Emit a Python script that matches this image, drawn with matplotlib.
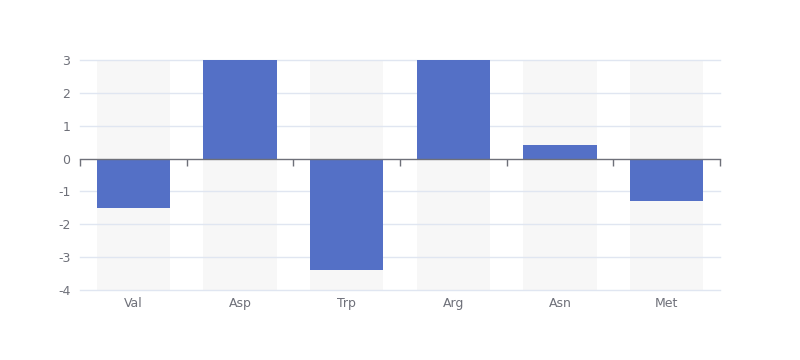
import matplotlib
matplotlib.use("Agg")
import matplotlib.pyplot as plt
import numpy as np

categories = ["Val", "Asp", "Trp", "Arg", "Asn", "Met"]
values = [-1.5, 3, -3.4, 3, 0.4, -1.3]
y_min, y_max = -4, 3
y_ticks = [-4, -3, -2, -1, 0, 1, 2, 3]

bar_color = "#5470c6"
axis_color = "#6E7079"
grid_color = "#E0E6F1"

plt.rcParams['font.family'] = ['DejaVu Sans']

fig = plt.figure(figsize=(8, 3.6), dpi=100)
ax = fig.add_axes([0.1, 1 - 290 / 360, 0.8, 230 / 360])

x = np.arange(len(categories))
width = 0.69

# background bars
ax.bar(x, [y_max - y_min] * len(x), bottom=y_min, width=width,
       color=(180 / 255, 180 / 255, 180 / 255, 0.1), zorder=1, linewidth=0)
ax.bar(x, values, width=width, color=bar_color, zorder=3, linewidth=0)

ax.set_xlim(-0.5, len(categories) - 0.5)
ax.set_ylim(y_min, y_max)

ax.set_yticks(y_ticks)
ax.set_yticklabels([str(v) for v in y_ticks])
ax.tick_params(axis='y', length=0, pad=7, labelsize=9, labelcolor=axis_color)
for v in y_ticks:
    if v != 0:
        ax.axhline(v, color=grid_color, linewidth=1, zorder=2, clip_on=False)

for s in ['top', 'right', 'left']:
    ax.spines[s].set_visible(False)
ax.spines['bottom'].set_position(('data', 0))
ax.spines['bottom'].set_color(axis_color)
ax.spines['bottom'].set_linewidth(1)
ax.spines['bottom'].set_zorder(4)
ax.set_xticks(np.arange(len(categories) + 1) - 0.5)
ax.set_xticklabels([])
ax.tick_params(axis='x', length=5, width=1, color=axis_color, direction='out')

sec = ax.secondary_xaxis('bottom')
sec.set_xticks(x)
sec.set_xticklabels(categories)
sec.tick_params(length=0, pad=5, labelsize=9, labelcolor=axis_color)
for s in sec.spines.values():
    s.set_visible(False)

fig.savefig("out.png", dpi=100, facecolor="white")
